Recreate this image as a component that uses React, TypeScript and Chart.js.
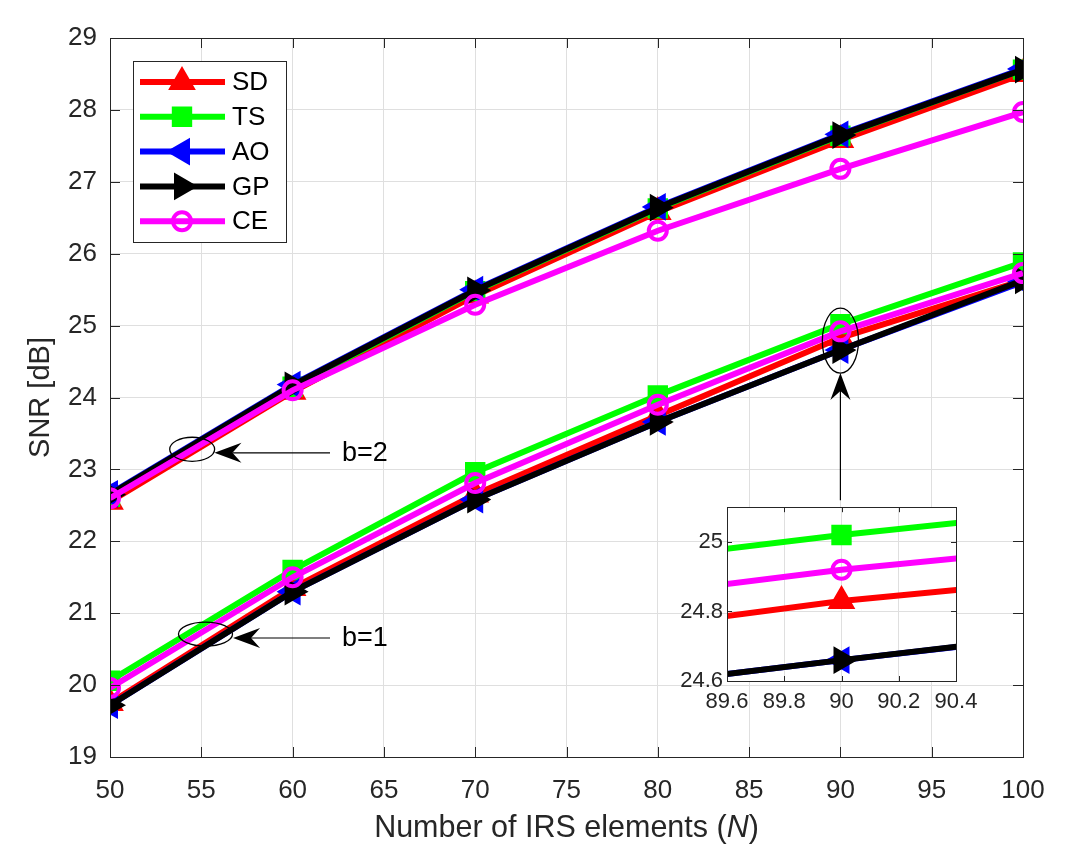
import React, { useEffect, useRef } from 'react';
import { Chart, registerables } from 'chart.js';

Chart.register(...registerables);

// ---------------- data ----------------
const nValues = [50, 60, 70, 80, 90, 100];

const sdB1 = [19.75, 21.35, 22.65, 23.75, 24.83, 25.63];
const tsB1 = [20.06, 21.6, 22.96, 24.03, 25.02, 25.88];
const aoB1 = [19.72, 21.3, 22.58, 23.66, 24.66, 25.61];
const gpB1 = [19.72, 21.3, 22.58, 23.66, 24.66, 25.63];
const ceB1 = [19.96, 21.5, 22.81, 23.9, 24.92, 25.73];

const sdB2 = [22.55, 24.08, 25.42, 26.58, 27.58, 28.5];
const tsB2 = [22.62, 24.15, 25.48, 26.63, 27.64, 28.56];
const aoB2 = [22.66, 24.18, 25.5, 26.65, 27.66, 28.57];
const gpB2 = [22.65, 24.17, 25.49, 26.64, 27.65, 28.56];
const ceB2 = [22.6, 24.1, 25.29, 26.32, 27.18, 27.97];

const seriesNames = ['SD', 'TS', 'AO', 'GP', 'CE'];
const b1Series = [sdB1, tsB1, aoB1, gpB1, ceB1];
const b2Series = [sdB2, tsB2, aoB2, gpB2, ceB2];

const xTicks = [50, 55, 60, 65, 70, 75, 80, 85, 90, 95, 100];
const yTicks = [19, 20, 21, 22, 23, 24, 25, 26, 27, 28, 29];
const insetXTicks = [89.6, 89.8, 90, 90.2, 90.4];
const insetYTicks = [24.6, 24.8, 25];

// annotations (data units)
const ellipseNotes = [
  { cx: 54.5, cy: 23.28, rx: 1.23, ry: 0.167 },
  { cx: 55.23, cy: 20.71, rx: 1.48, ry: 0.167 },
  { cx: 90, cy: 24.79, rx: 0.99, ry: 0.452 },
];
const arrowNotes = [
  { x1: 62.05, y1: 23.23, x2: 55.72, y2: 23.23 },
  { x1: 62.05, y1: 20.655, x2: 56.74, y2: 20.655 },
  { x1: 90, y1: 22.57, x2: 90, y2: 24.34 },
];
const textNotes = [
  { x: 62.7, y: 23.23, text: 'b=2' },
  { x: 62.7, y: 20.655, text: 'b=1' },
];

// ---------------- styles ----------------
const FONT = '"Liberation Sans", Arial, Helvetica, sans-serif';
const TEXT = '#262626';
const GRID = '#dfdfdf';
const TITLE_X = 30.5;
const TITLE_Y = 29;

type MStyle = { color: string; shape: string; rot: number; r: number; bw: number; filled: boolean };
const styles: MStyle[] = [
  { color: '#ff0000', shape: 'triangle', rot: 0, r: 14, bw: 2, filled: true },
  { color: '#00ff00', shape: 'rect', rot: 0, r: 13, bw: 2, filled: true },
  { color: '#0000ff', shape: 'triangle', rot: -90, r: 14, bw: 2, filled: true },
  { color: '#000000', shape: 'triangle', rot: 90, r: 14, bw: 2, filled: true },
  { color: '#ff00ff', shape: 'circle', rot: 0, r: 9, bw: 4, filled: false },
];
const LINE_W = 6;

function buildDatasets(clip: any) {
  const out: any[] = [];
  styles.forEach((s, i) => {
    [b1Series[i], b2Series[i]].forEach((vals) => {
      out.push({
        label: seriesNames[i],
        data: nValues.map((x, k) => ({ x, y: vals[k] })),
        borderColor: s.color,
        backgroundColor: s.color,
        borderWidth: LINE_W,
        pointStyle: s.shape,
        pointRotation: s.rot,
        pointRadius: s.r,
        pointBorderWidth: s.bw,
        pointBorderColor: s.color,
        pointBackgroundColor: s.filled ? s.color : 'rgba(0,0,0,0)',
        tension: 0,
        order: 4 - i,
        clip,
      });
    });
  });
  return out;
}

function drawMarker(ctx: CanvasRenderingContext2D, s: MStyle, x: number, y: number) {
  ctx.save();
  ctx.translate(x, y);
  ctx.rotate((s.rot * Math.PI) / 180);
  ctx.beginPath();
  const r = s.r;
  if (s.shape === 'triangle') {
    for (let k = 0; k < 3; k++) {
      const a = (k * 2 * Math.PI) / 3;
      const px = Math.sin(a) * r;
      const py = -Math.cos(a) * r;
      if (k === 0) ctx.moveTo(px, py);
      else ctx.lineTo(px, py);
    }
    ctx.closePath();
  } else if (s.shape === 'rect') {
    const h = Math.SQRT1_2 * r;
    ctx.rect(-h, -h, 2 * h, 2 * h);
  } else {
    ctx.arc(0, 0, r, 0, Math.PI * 2);
  }
  ctx.lineWidth = s.bw;
  ctx.strokeStyle = s.color;
  if (s.filled) {
    ctx.fillStyle = s.color;
    ctx.fill();
  }
  ctx.stroke();
  ctx.restore();
}

function drawFrame(chart: any, tickLen: number, xt: number[], yt: number[]) {
  const { ctx, chartArea: a } = chart;
  const xs = chart.scales.x;
  const ys = chart.scales.y;
  ctx.save();
  ctx.strokeStyle = TEXT;
  ctx.lineWidth = 1;
  ctx.beginPath();
  xt.forEach((v) => {
    const p = Math.round(xs.getPixelForValue(v)) + 0.5;
    ctx.moveTo(p, a.bottom);
    ctx.lineTo(p, a.bottom - tickLen);
    ctx.moveTo(p, a.top);
    ctx.lineTo(p, a.top + tickLen);
  });
  yt.forEach((v) => {
    const p = Math.round(ys.getPixelForValue(v)) + 0.5;
    ctx.moveTo(a.left, p);
    ctx.lineTo(a.left + tickLen, p);
    ctx.moveTo(a.right, p);
    ctx.lineTo(a.right - tickLen, p);
  });
  ctx.stroke();
  ctx.strokeRect(Math.round(a.left) + 0.5, Math.round(a.top) + 0.5, Math.round(a.right - a.left), Math.round(a.bottom - a.top));
  ctx.restore();
}

function drawArrow(ctx: CanvasRenderingContext2D, x1: number, y1: number, x2: number, y2: number) {
  const ang = Math.atan2(y2 - y1, x2 - x1);
  const L = 27;
  const W = 10;
  const notch = 18;
  ctx.save();
  ctx.strokeStyle = '#000';
  ctx.lineWidth = 1.2;
  ctx.beginPath();
  ctx.moveTo(x1, y1);
  ctx.lineTo(x2 - Math.cos(ang) * notch, y2 - Math.sin(ang) * notch);
  ctx.stroke();
  ctx.translate(x2, y2);
  ctx.rotate(ang);
  ctx.beginPath();
  ctx.moveTo(0, 0);
  ctx.lineTo(-L, -W);
  ctx.lineTo(-notch, 0);
  ctx.lineTo(-L, W);
  ctx.closePath();
  ctx.fillStyle = '#000';
  ctx.fill();
  ctx.restore();
}

const mainDecor = {
  id: 'mainDecor',
  beforeDraw(chart: any) {
    const { ctx, width, height } = chart;
    ctx.save();
    ctx.fillStyle = '#fff';
    ctx.fillRect(0, 0, width, height);
    ctx.restore();
  },
  afterDatasetsDraw(chart: any) {
    const { ctx, chartArea: a } = chart;
    const xs = chart.scales.x;
    const ys = chart.scales.y;
    // ellipses
    ctx.save();
    ctx.strokeStyle = '#000';
    ctx.lineWidth = 1.3;
    ellipseNotes.forEach((e) => {
      const cx = xs.getPixelForValue(e.cx);
      const cy = ys.getPixelForValue(e.cy);
      const rx = Math.abs(xs.getPixelForValue(e.cx + e.rx) - cx);
      const ry = Math.abs(ys.getPixelForValue(e.cy + e.ry) - cy);
      ctx.beginPath();
      ctx.ellipse(cx, cy, rx, ry, 0, 0, Math.PI * 2);
      ctx.stroke();
    });
    ctx.restore();
    arrowNotes.forEach((n) => {
      drawArrow(ctx, xs.getPixelForValue(n.x1), ys.getPixelForValue(n.y1), xs.getPixelForValue(n.x2), ys.getPixelForValue(n.y2));
    });
    ctx.save();
    ctx.fillStyle = '#000';
    ctx.font = `27px ${FONT}`;
    ctx.textAlign = 'left';
    ctx.textBaseline = 'middle';
    textNotes.forEach((t) => {
      ctx.fillText(t.text, xs.getPixelForValue(t.x), ys.getPixelForValue(t.y) + 1);
    });
    ctx.restore();

    // legend
    const bx = a.left + 23;
    const by = a.top + 23;
    const bw = 153;
    const bh = 181;
    ctx.save();
    ctx.fillStyle = '#fff';
    ctx.fillRect(bx, by, bw, bh);
    ctx.strokeStyle = TEXT;
    ctx.lineWidth = 1;
    ctx.strokeRect(Math.round(bx) + 0.5, Math.round(by) + 0.5, bw, bh);
    ctx.font = `26px ${FONT}`;
    ctx.textBaseline = 'middle';
    ctx.textAlign = 'left';
    styles.forEach((s, i) => {
      const yy = by + 21 + i * 34.8;
      ctx.strokeStyle = s.color;
      ctx.lineWidth = LINE_W;
      ctx.beginPath();
      ctx.moveTo(bx + 7, yy);
      ctx.lineTo(bx + 92, yy);
      ctx.stroke();
      drawMarker(ctx, s, bx + 49, yy);
      ctx.fillStyle = '#000';
      ctx.fillText(seriesNames[i], bx + 99, yy + 1);
    });
    ctx.restore();
  },
  afterDraw(chart: any) {
    drawFrame(chart, 10, xTicks, yTicks);
    const { ctx, chartArea: a } = chart;
    ctx.save();
    ctx.fillStyle = TEXT;
    ctx.textBaseline = 'middle';
    // x title
    const p1 = 'Number of IRS elements (';
    const p3 = ')';
    const up = `${TITLE_X}px ${FONT}`;
    const it = `italic ${TITLE_X}px ${FONT}`;
    ctx.font = up;
    const w1 = ctx.measureText(p1).width;
    const w3 = ctx.measureText(p3).width;
    ctx.font = it;
    const w2 = ctx.measureText('N').width;
    const total = w1 + w2 + w3;
    const x0 = (a.left + a.right) / 2 - total / 2;
    const ty = 829;
    ctx.textAlign = 'left';
    ctx.font = up;
    ctx.fillText(p1, x0, ty);
    ctx.font = it;
    ctx.fillText('N', x0 + w1, ty);
    ctx.font = up;
    ctx.fillText(p3, x0 + w1 + w2, ty);
    // y title
    ctx.font = `${TITLE_Y}px ${FONT}`;
    ctx.translate(41, (a.top + a.bottom) / 2);
    ctx.rotate(-Math.PI / 2);
    ctx.textAlign = 'center';
    ctx.fillText('SNR [dB]', 0, 0);
    ctx.restore();
  },
};

const insetDecor = {
  id: 'insetDecor',
  beforeDraw(chart: any) {
    const { ctx, chartArea: a } = chart;
    ctx.save();
    ctx.fillStyle = '#fff';
    ctx.fillRect(a.left, a.top, a.right - a.left, a.bottom - a.top);
    ctx.restore();
  },
  afterDraw(chart: any) {
    drawFrame(chart, 5, insetXTicks, insetYTicks);
  },
};

const fmt = (v: any) => `${+(+v).toFixed(2)}`;

export default function App() {
  const mainRef = useRef<HTMLCanvasElement>(null);
  const insetRef = useRef<HTMLCanvasElement>(null);

  useEffect(() => {
    const main = new Chart(mainRef.current as HTMLCanvasElement, {
      type: 'line',
      data: { datasets: buildDatasets(undefined) },
      options: {
        animation: false,
        responsive: false,
        maintainAspectRatio: false,
        layout: { padding: { left: 0, right: 60, top: 38, bottom: 0 } },
        plugins: { legend: { display: false }, tooltip: { enabled: false } },
        scales: {
          x: {
            type: 'linear',
            min: 50,
            max: 100,
            afterBuildTicks: (s: any) => {
              s.ticks = xTicks.map((v) => ({ value: v }));
            },
            afterFit: (s: any) => {
              s.height = 99;
            },
            grid: { color: GRID, drawTicks: false, lineWidth: 1 },
            border: { display: false },
            ticks: { font: { family: FONT, size: 26 }, color: TEXT, padding: 18, callback: fmt, maxRotation: 0 },
          },
          y: {
            type: 'linear',
            min: 19,
            max: 29,
            afterBuildTicks: (s: any) => {
              s.ticks = yTicks.map((v) => ({ value: v }));
            },
            afterFit: (s: any) => {
              s.width = 110;
            },
            grid: { color: GRID, drawTicks: false, lineWidth: 1 },
            border: { display: false },
            ticks: { font: { family: FONT, size: 26 }, color: TEXT, padding: 13, callback: fmt },
          },
        },
      },
      plugins: [mainDecor],
    } as any);

    const inset = new Chart(insetRef.current as HTMLCanvasElement, {
      type: 'line',
      data: { datasets: buildDatasets(0) },
      options: {
        animation: false,
        responsive: false,
        maintainAspectRatio: false,
        layout: { padding: { left: 0, right: 44, top: 11, bottom: 0 } },
        plugins: { legend: { display: false }, tooltip: { enabled: false } },
        scales: {
          x: {
            type: 'linear',
            min: 89.6,
            max: 90.4,
            afterBuildTicks: (s: any) => {
              s.ticks = insetXTicks.map((v) => ({ value: v }));
            },
            afterFit: (s: any) => {
              s.height = 49;
            },
            grid: { color: GRID, drawTicks: false },
            border: { display: false },
            ticks: { font: { family: FONT, size: 22 }, color: TEXT, padding: 8, callback: fmt, maxRotation: 0 },
          },
          y: {
            type: 'linear',
            min: 24.6,
            max: 25.1,
            afterBuildTicks: (s: any) => {
              s.ticks = insetYTicks.map((v) => ({ value: v }));
            },
            afterFit: (s: any) => {
              s.width = 87;
            },
            grid: { color: GRID, drawTicks: false },
            border: { display: false },
            ticks: { font: { family: FONT, size: 22 }, color: TEXT, padding: 4, callback: fmt },
          },
        },
      },
      plugins: [insetDecor],
    } as any);

    return () => {
      main.destroy();
      inset.destroy();
    };
  }, []);

  return (
    <div style={{ position: 'fixed', left: 0, top: 0, width: 1083, height: 856, background: '#fff' }}>
      <canvas ref={mainRef} width={1083} height={856} style={{ position: 'absolute', left: 0, top: 0, width: 1083, height: 856 }} />
      <canvas ref={insetRef} width={360} height={240} style={{ position: 'absolute', left: 640, top: 490, width: 360, height: 240 }} />
    </div>
  );
}
